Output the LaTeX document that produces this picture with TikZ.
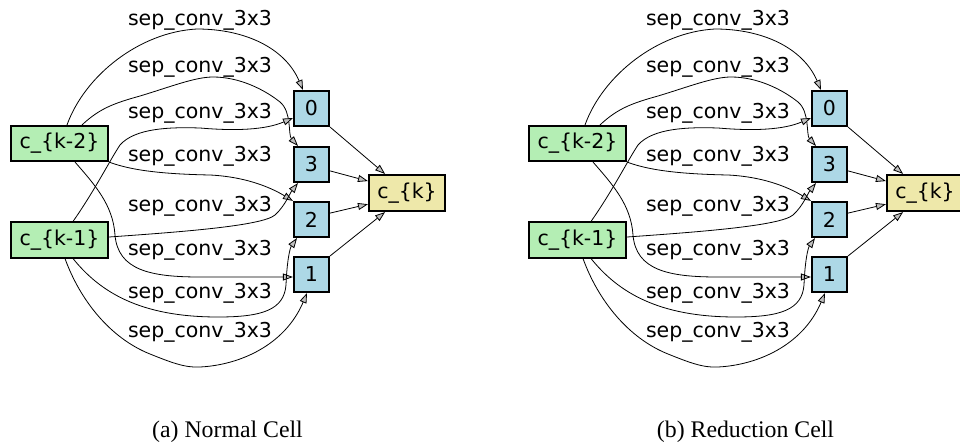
\documentclass[tikz,border=0pt]{standalone}
\usepackage{fontspec}
\setmainfont{Liberation Serif}
\newfontfamily\dvfont{DejaVu Sans}
\usetikzlibrary{arrows.meta}
\definecolor{boxgreen}{HTML}{B4EEB4}
\definecolor{boxblue}{HTML}{ADD8E6}
\definecolor{boxyellow}{HTML}{EEE8AA}
\definecolor{arrowgray}{HTML}{C0C0C0}
\tikzset{
  box/.style={draw=black, line width=1.6pt, inner sep=0pt, font=\dvfont\fontsize{20.5}{24}\selectfont},
  inbox/.style={box, fill=boxgreen, minimum width=97.5pt, minimum height=35.5pt},
  opbox/.style={box, fill=boxblue, minimum width=35.5pt, minimum height=35.5pt},
  outbox/.style={box, fill=boxyellow, minimum width=76.5pt, minimum height=36.5pt},
  edge/.style={line width=0.8pt, -{Triangle[length=10pt,width=7pt,fill=arrowgray]}},
  lab/.style={anchor=base, inner sep=0pt, font=\dvfont\fontsize{20.5}{24}\selectfont},
  captext/.style={anchor=base, inner sep=0pt, font=\fontsize{23.8}{28}\selectfont}
}
\newcommand\drawcell[3]{%
  \node[inbox] (#1k2) at (#2+59.5,143.5) {c\_\{k-2\}};
  \node[inbox] (#1k1) at (#2+59.5,240) {c\_\{k-1\}};
  \node[opbox] (#1n0) at (#2+311.5,108.5) {0};
  \node[opbox] (#1n3) at (#2+311.5,164.5) {3};
  \node[opbox] (#1n2) at (#2+311.5,219.5) {2};
  \node[opbox] (#1n1) at (#2+311.5,274.5) {1};
  \node[outbox] (#1ck) at (#2+407,193) {c\_\{k\}};
  \node[lab] (#1l1) at (#2+200,25) {sep\_conv\_3x3};
  \node[lab] (#1l2) at (#2+200,72) {sep\_conv\_3x3};
  \node[lab] (#1l3) at (#2+200,118) {sep\_conv\_3x3};
  \node[lab] (#1l4) at (#2+200,161) {sep\_conv\_3x3};
  \node[lab] (#1l5) at (#2+200,211) {sep\_conv\_3x3};
  \node[lab] (#1l6) at (#2+200,255) {sep\_conv\_3x3};
  \node[lab] (#1l7) at (#2+200,298) {sep\_conv\_3x3};
  \node[lab] (#1l8) at (#2+200,337) {sep\_conv\_3x3};
  \node[captext] (#1cap) at (#2+227.5,437) {#3};
  % k2 -> 0
  \draw[edge] ([xshift=7.5]#1k2.north) .. controls (#2+85,75) and (#2+140,32) .. (#2+197,29)
     .. controls (#2+245,29) and (#2+285,48) .. ([xshift=-8.5]#1n0.north);
  % k2 -> 3
  \draw[edge] ([xshift=22.5]#1k2.north) .. controls (#2+100,108) and (#2+115,103) .. (#2+140,96)
     .. controls (#2+170,87) and (#2+195,77) .. (#2+213,77)
     .. controls (#2+240,77) and (#2+265,90) .. (#2+280,102)
     .. controls (#2+292,112) and (#2+288,135) .. ([xshift=-13.5]#1n3.north);
  % k1 -> 0
  \draw[edge] ([xshift=13.5]#1k1.north) .. controls (#2+95,190) and (#2+110,160) .. (#2+120,145)
     .. controls (#2+135,128) and (#2+170,127) .. (#2+200,128)
     .. controls (#2+235,131) and (#2+265,130) .. ([yshift=-9.5]#1n0.west);
  % k2 -> 2
  \draw[edge] (#1k2.south east) .. controls (#2+130,170) and (#2+160,174) .. (#2+210,175)
     .. controls (#2+250,177) and (#2+275,190) .. (#1n2.north west);
  % k1 -> 3
  \draw[edge] ([yshift=3]#1k1.east) .. controls (#2+180,232) and (#2+262,226) .. (#2+275,215)
     .. controls (#2+285,206) and (#2+290,193) .. ([xshift=-13.5]#1n3.south);
  % k2 -> 1
  \draw[edge] ([xshift=15.5]#1k2.south) .. controls (#2+95,185) and (#2+113,205) .. (#2+115,235)
     .. controls (#2+118,270) and (#2+150,277) .. (#2+200,277) -- ([yshift=-2.5]#1n1.west);
  % k1 -> 2
  \draw[edge] ([xshift=13.5]#1k1.south) .. controls (#2+100,292) and (#2+140,317) .. (#2+218,317)
     .. controls (#2+262,317) and (#2+284,310) .. (#2+286,285)
     .. controls (#2+287,260) and (#2+290,248) .. ([xshift=-14.5]#1n2.south);
  % k1 -> 1
  \draw[edge] ([xshift=5.5]#1k1.south) .. controls (#2+80,300) and (#2+110,338) .. (#2+150,354)
     .. controls (#2+170,362) and (#2+185,368) .. (#2+200,367)
     .. controls (#2+240,365) and (#2+285,345) .. ([xshift=-4.5]#1n1.south);
  % ops -> c_k
  \draw[edge] (#1n0.south east) -- (#1ck.139);
  \draw[edge] (#1n3.-19) -- (#1ck.163);
  \draw[edge] (#1n2.19) -- (#1ck.196);
  \draw[edge] (#1n1.north east) -- (#1ck.221);
}
\begin{document}
\begin{tikzpicture}[x=1pt,y=-1pt]
  \useasboundingbox (0,0) rectangle (960,447);
  \drawcell{a}{0}{(a) Normal Cell}
  \drawcell{b}{518}{(b) Reduction Cell}
\end{tikzpicture}
\end{document}
